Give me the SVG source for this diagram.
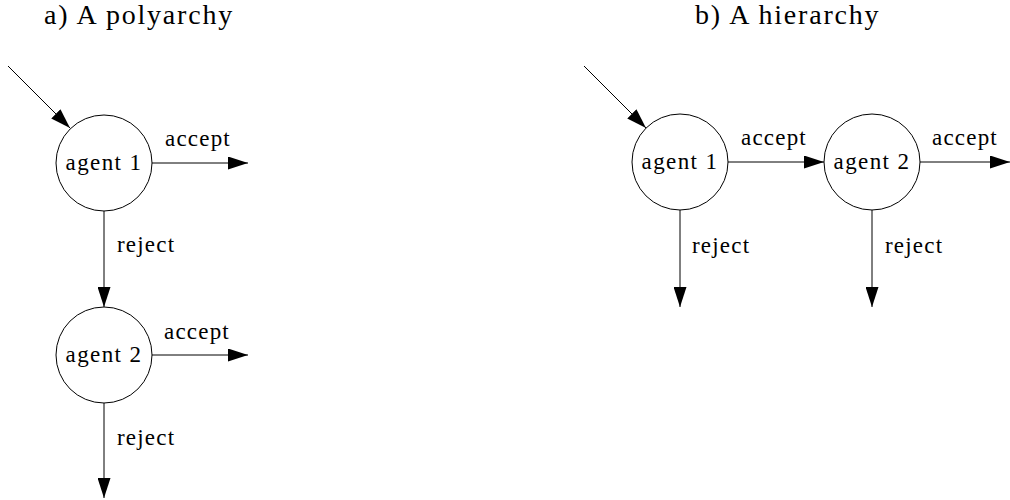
<svg xmlns="http://www.w3.org/2000/svg" width="1010" height="500" viewBox="0 0 1010 500">
<style>
  text { font-family: "Liberation Serif", "Times New Roman", serif; fill: #000; }
  .title { font-size: 28px; letter-spacing: 1.8px; }
  .node circle { fill: #fff; stroke: #000; stroke-width: 1; }
  .node text { font-size: 23px; letter-spacing: 1.4px; text-anchor: middle; }
  .edge { stroke: #000; stroke-width: 1; fill: none; marker-end: url(#arrow); }
  .lbl { font-size: 23px; letter-spacing: 1.2px; }
</style>
<defs>
  <marker id="arrow" markerUnits="userSpaceOnUse" markerWidth="20" markerHeight="13" refX="20" refY="6.5" orient="auto" viewBox="0 0 20 13">
    <path d="M0,0 L20,6.5 L0,13 z" fill="#000"/>
  </marker>
</defs>
<rect width="1010" height="500" fill="#fff"/>
<text class="title" x="44" y="24">a) A polyarchy</text>
<text class="title" x="695" y="24">b) A hierarchy</text>
<g id="connectors">
  <line class="edge" x1="8" y1="66" x2="70" y2="128"/>
  <line class="edge" x1="152" y1="163" x2="248" y2="163"/>
  <line class="edge" x1="104" y1="211" x2="104" y2="307"/>
  <line class="edge" x1="152" y1="355" x2="248" y2="355"/>
  <line class="edge" x1="104" y1="403" x2="104" y2="498"/>
  <line class="edge" x1="584" y1="66" x2="646" y2="128"/>
  <line class="edge" x1="728" y1="162" x2="824" y2="162"/>
  <line class="edge" x1="920" y1="162" x2="1010" y2="162"/>
  <line class="edge" x1="680" y1="210" x2="680" y2="307"/>
  <line class="edge" x1="872" y1="210" x2="872" y2="307"/>
  <text class="lbl" x="165" y="146">accept</text>
  <text class="lbl" x="117" y="252">reject</text>
  <text class="lbl" x="164" y="339">accept</text>
  <text class="lbl" x="117" y="445">reject</text>
  <text class="lbl" x="741" y="145">accept</text>
  <text class="lbl" x="932" y="145">accept</text>
  <text class="lbl" x="692" y="253">reject</text>
  <text class="lbl" x="885" y="253">reject</text>
</g>
<g id="poly-agent1" class="node"><circle cx="104" cy="163" r="48"/><text x="104" y="170">agent 1</text></g>
<g id="poly-agent2" class="node"><circle cx="104" cy="355" r="48"/><text x="104" y="362">agent 2</text></g>
<g id="hier-agent1" class="node"><circle cx="680" cy="162" r="48"/><text x="680" y="169">agent 1</text></g>
<g id="hier-agent2" class="node"><circle cx="872" cy="162" r="48"/><text x="872" y="169">agent 2</text></g>
</svg>
